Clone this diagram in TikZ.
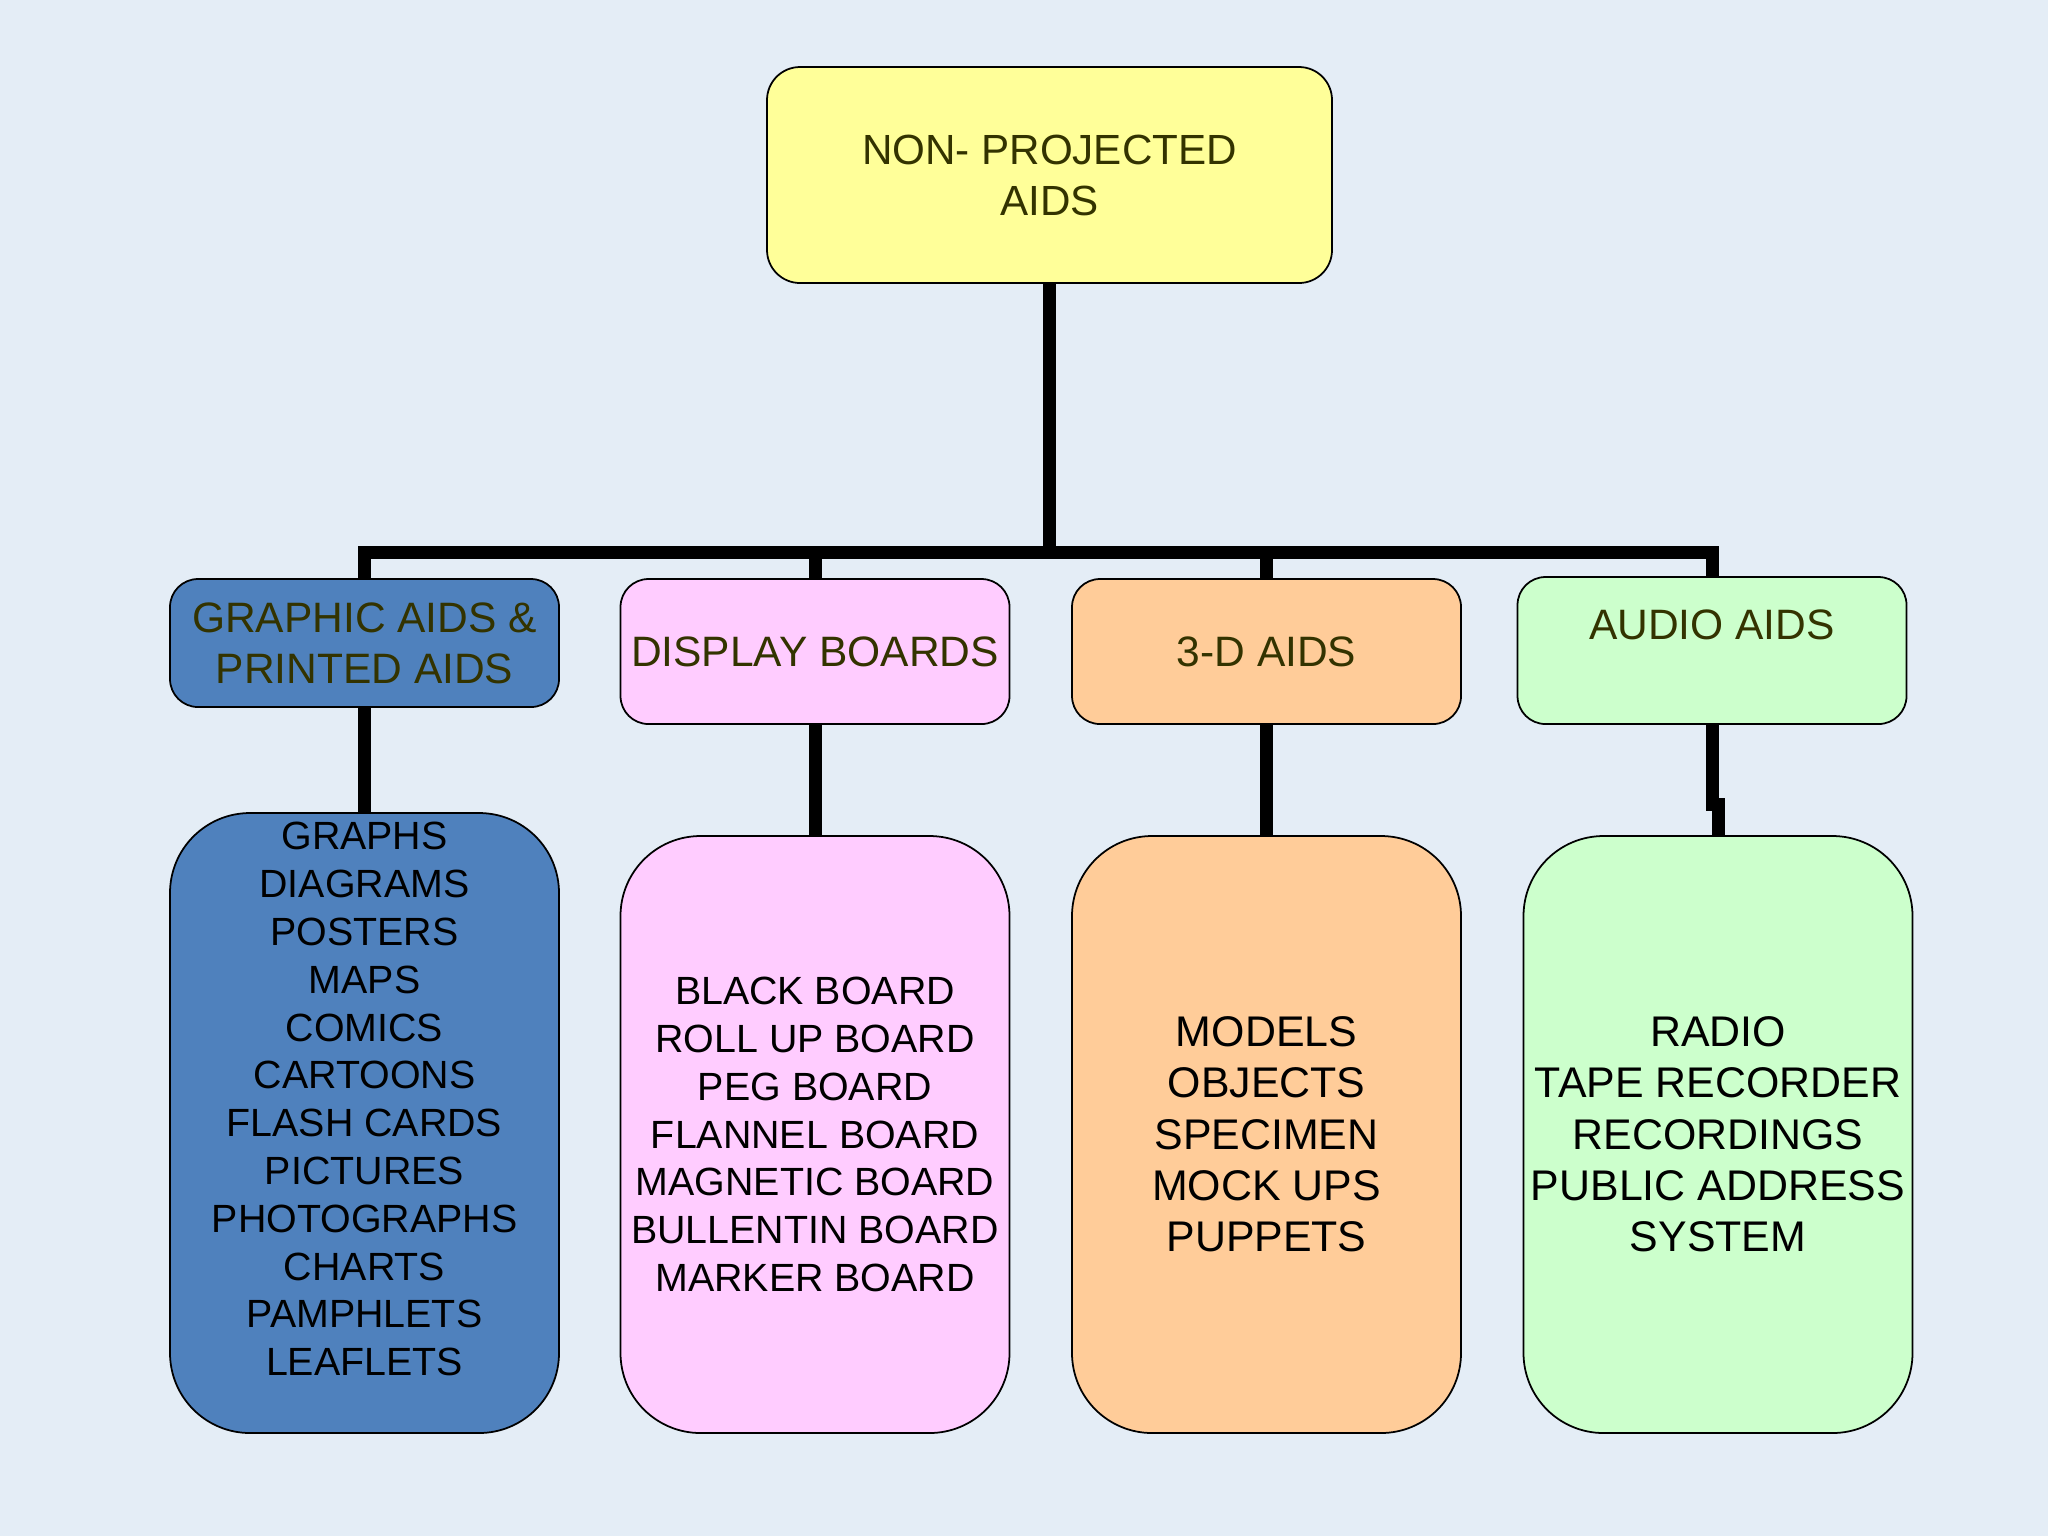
\documentclass[tikz,border=0pt]{standalone}
\usepackage{fontspec}
\setmainfont{Liberation Sans}
\usepackage{tikz}
\usetikzlibrary{positioning}
\definecolor{bgblue}{RGB}{228,237,246}
\definecolor{olivetext}{RGB}{51,51,0}
\definecolor{aidyellow}{RGB}{255,255,153}
\definecolor{aidblue}{RGB}{79,129,189}
\definecolor{aidpink}{RGB}{255,204,255}
\definecolor{aidorange}{RGB}{255,204,153}
\definecolor{aidgreen}{RGB}{204,255,204}
\tikzset{
  aidbox/.style={draw=black, line width=0.5pt, inner sep=0pt, align=center},
  topbox/.style={aidbox, fill=aidyellow, rounded corners=3.3mm, minimum width=56.5mm, minimum height=21.6mm,
    text=olivetext, font=\fontsize{12pt}{14.5pt}\selectfont},
  midbox/.style={aidbox, rounded corners=2.8mm, minimum width=38.9mm,
    text=olivetext, font=\fontsize{12.1pt}{14.5pt}\selectfont},
  listbox/.style={aidbox, rounded corners=8mm, minimum width=38.9mm, minimum height=59.7mm,
    text=black, font=\fontsize{11.2pt}{13.6pt}\selectfont},
  biglist/.style={listbox, font=\fontsize{12.2pt}{14.6pt}\selectfont},
  conn/.style={line width=1.3mm}
}
\begin{document}
\begin{tikzpicture}[x=0.1mm,y=-0.1mm]
  \def\bary{552}
  % Draw the background
  \fill[bgblue] (0,0) rectangle (2048,1536);
  \useasboundingbox (0,0) rectangle (2048,1536);
  % Draw the top box
  \node[topbox] (nonproj) at (1049.5,175) {NON- PROJECTED\\AIDS};
  % second level
  \node[midbox, fill=aidblue, minimum height=12.8mm] (graphicmid) at (364.5,643) {GRAPHIC AIDS \&\\PRINTED AIDS};
  \node[midbox, fill=aidpink, minimum height=14.5mm] (displaymid) at (815,651.5) {DISPLAY BOARDS};
  \node[midbox, fill=aidorange, minimum height=14.5mm] (threedmid) at (1266.5,651.5) {3-D AIDS};
  \node[midbox, fill=aidgreen, minimum height=14.7mm] (audiomid) at (1712,650.5) {AUDIO AIDS\\\mbox{}};
  % lists
  \node[listbox, fill=aidblue, minimum height=62mm] (graphiclist) at (364.5,1123)
    {GRAPHS\\DIAGRAMS\\POSTERS\\MAPS\\COMICS\\CARTOONS\\FLASH CARDS\\PICTURES\\PHOTOGRAPHS\\CHARTS\\PAMPHLETS\\LEAFLETS\\\mbox{}};
  \node[listbox, fill=aidpink] (displaylist) at (815,1134.5)
    {BLACK BOARD\\ROLL UP BOARD\\PEG BOARD\\FLANNEL BOARD\\MAGNETIC BOARD\\BULLENTIN BOARD\\MARKER BOARD};
  \node[biglist, fill=aidorange] (threedlist) at (1266.5,1134.5)
    {MODELS\\OBJECTS\\SPECIMEN\\MOCK UPS\\PUPPETS};
  \node[biglist, fill=aidgreen] (audiolist) at (1718,1134.5)
    {RADIO\\TAPE RECORDER\\RECORDINGS\\PUBLIC ADDRESS\\SYSTEM};
  %connectors
  \coordinate (bar) at (0,\bary);
  \draw[conn] (graphicmid.north) -- (graphicmid.north |- bar) -- (audiomid.north |- bar) -- (audiomid.north);
  \draw[conn] (nonproj.south) -- (nonproj.south |- bar);
  \draw[conn] (displaymid.north) -- (displaymid.north |- bar);
  \draw[conn] (threedmid.north) -- (threedmid.north |- bar);
  \draw[conn] (graphicmid.south) -- (graphiclist.north);
  \draw[conn] (displaymid.south) -- (displaylist.north);
  \draw[conn] (threedmid.south) -- (threedlist.north);
  \draw[conn] (audiomid.south) -- ++(0,80) -| (audiolist.north);
\end{tikzpicture}
\end{document}
